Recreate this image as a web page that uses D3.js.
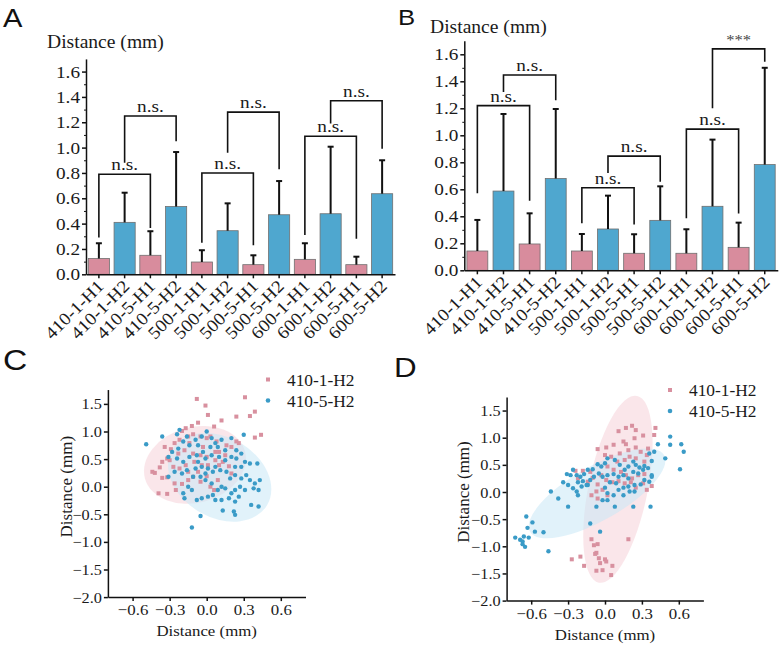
<!DOCTYPE html>
<html>
<head>
<meta charset="utf-8">
<script src="https://cdn.jsdelivr.net/npm/d3@7"></script>
<style>
    body { margin: 0; background: #fff; }
    svg text { font-family: "Liberation Serif", "Times New Roman", serif; fill: #1a1a1a; }
</style>
</head>
<body>
<svg id="fig" width="784" height="645"></svg>
<script>
// ---- data ----
var categories = ["410-1-H1", "410-1-H2", "410-5-H1", "410-5-H2", "500-1-H1", "500-1-H2",
    "500-5-H1", "500-5-H2", "600-1-H1", "600-1-H2", "600-5-H1", "600-5-H2"];
var yTicksBar = [0, 0.2, 0.4, 0.6, 0.8, 1.0, 1.2, 1.4, 1.6];
var yMinorBar = [0.1, 0.3, 0.5, 0.7, 0.9, 1.1, 1.3, 1.5];

var meanA = [0.125, 0.41, 0.15, 0.535, 0.097, 0.344, 0.076, 0.47, 0.118, 0.478, 0.076, 0.636];
var sdA = [0.12, 0.234, 0.19, 0.43, 0.093, 0.216, 0.074, 0.266, 0.127, 0.529, 0.063, 0.264];
var meanB = [0.143, 0.587, 0.195, 0.68, 0.143, 0.306, 0.126, 0.37, 0.126, 0.474, 0.17, 0.783];
var sdB = [0.23, 0.571, 0.227, 0.515, 0.126, 0.247, 0.141, 0.252, 0.178, 0.494, 0.183, 0.717];

// [from bar, to bar, bracket height, left leg end, right leg end, label]
var bracketsA = [[0, 2, 0.79, 0.29, 0.365, "n.s."], [1, 3, 1.25, 0.88, 1.05, "n.s."],
    [4, 6, 0.80, 0.25, 0.23, "n.s."], [5, 7, 1.28, 0.96, 0.83, "n.s."],
    [8, 10, 1.09, 0.31, 0.28, "n.s."], [9, 11, 1.37, 1.19, 0.99, "n.s."]];
var bracketsB = [[0, 2, 1.22, 0.57, 0.515, "n.s."], [1, 3, 1.447, 1.32, 1.26, "n.s."],
    [4, 6, 0.612, 0.348, 0.34, "n.s."], [5, 7, 0.846, 0.72, 0.656, "n.s."],
    [8, 10, 1.046, 0.385, 0.42, "n.s."], [9, 11, 1.64, 1.2, 1.545, "***"]];

var yTicksSc = [-2.0, -1.5, -1.0, -0.5, 0.0, 0.5, 1.0, 1.5];
var xTicksSc = [-0.6, -0.3, 0.0, 0.3, 0.6];
var seriesNames = ["410-1-H2", "410-5-H2"];

var pinkC = [[-0.08,1.59],[0.31,1.62],[-0.01,1.47],[0.24,1.27],[0.35,1.28],[0.39,1.36],[0.01,1.30],[-0.07,1.16],
    [0.12,1.20],[0.06,1.09],[-0.12,1.10],[-0.17,1.06],[-0.20,1.01],[0.44,0.94],[0.39,0.89],[0.26,0.79],[0.24,0.82],
    [0.20,0.72],[0.16,0.75],[0.08,0.82],[0.03,0.91],[0.0,0.88],[-0.05,0.91],[-0.11,0.95],[-0.15,0.91],[-0.22,0.85],
    [-0.26,0.79],[-0.29,0.68],[-0.34,0.72],[-0.32,0.51],[-0.30,0.48],[-0.36,0.45],[-0.38,0.35],[-0.44,0.27],
    [-0.42,0.25],[-0.36,0.16],[-0.32,0.17],[-0.26,0.06],[-0.25,-0.06],[-0.32,-0.13],[-0.39,-0.12],[-0.20,0.05],
    [-0.15,0.12],[-0.11,0.18],[-0.05,0.09],[0.03,0.0],[0.06,-0.06],[0.09,0.12],[0.0,0.19],[-0.07,0.27],[-0.15,0.27],
    [-0.17,0.39],[-0.10,0.45],[-0.04,0.39],[0.01,0.39],[0.07,0.48],[0.13,0.45],[0.18,0.37],[0.20,0.24],[-0.05,0.57],
    [-0.11,0.60],[-0.18,0.66],[-0.23,0.60],[0.10,0.63],[0.15,0.57],[0.07,0.63],[-0.03,0.72],[-0.14,0.79],
    [-0.27,0.36],[-0.22,0.33],[0.10,0.39],[0.0,0.54]];
var blueC = [[-0.49,0.77],[-0.36,0.91],[-0.24,0.95],[-0.22,1.03],[-0.16,0.91],[-0.09,0.85],[-0.04,0.91],[0.0,1.0],
    [0.04,0.88],[-0.07,0.75],[-0.14,0.75],[-0.19,0.82],[-0.23,0.69],[-0.28,0.63],[-0.31,0.54],[-0.24,0.51],
    [-0.19,0.45],[-0.14,0.54],[-0.08,0.57],[-0.03,0.63],[0.03,0.72],[0.07,0.79],[0.12,0.85],[0.20,0.88],[0.30,0.94],
    [0.31,0.45],[0.24,0.51],[0.20,0.54],[0.15,0.48],[0.10,0.54],[0.07,0.36],[0.01,0.33],[-0.04,0.36],[-0.09,0.33],
    [-0.16,0.30],[-0.20,0.24],[-0.26,0.27],[-0.31,0.18],[-0.11,0.18],[-0.05,0.18],[-0.01,0.24],[0.05,0.27],
    [0.11,0.30],[0.16,0.27],[0.19,0.15],[0.23,0.21],[0.28,0.15],[0.32,0.21],[0.35,0.12],[0.39,0.06],[0.43,0.12],
    [0.42,-0.06],[0.38,-0.03],[0.31,-0.06],[0.27,0.0],[0.23,-0.06],[0.20,-0.12],[0.15,-0.03],[0.12,0.0],[0.09,-0.06],
    [0.05,-0.15],[0.01,-0.18],[-0.04,-0.21],[-0.08,-0.24],[-0.12,-0.06],[-0.15,0.0],[-0.19,-0.12],[-0.18,-0.21],
    [0.07,-0.24],[0.12,-0.24],[0.18,-0.21],[0.23,-0.27],[0.26,-0.18],[0.36,-0.33],[0.42,-0.36],[0.13,-0.43],
    [0.23,-0.51],[0.22,-0.45],[-0.05,-0.53],[-0.12,-0.74],[0.41,0.42],[0.35,0.42],[0.28,0.60],[0.24,0.66],
    [0.15,0.66],[0.09,0.72],[-0.01,0.51],[-0.07,0.45],[0.04,0.57],[-0.01,0.12],[0.04,0.06],[0.28,0.36],[0.23,0.36]];

var pinkD = [[0.11,1.12],[0.17,1.18],[0.22,1.22],[0.25,1.14],[0.31,1.04],[0.41,1.18],[0.24,0.99],[0.15,0.93],
    [0.17,0.88],[0.07,0.87],[0.01,0.82],[-0.06,0.79],[0.0,0.68],[0.05,0.65],[0.12,0.71],[0.19,0.77],[0.25,0.82],
    [0.29,0.74],[0.34,0.68],[0.32,0.56],[0.25,0.62],[0.20,0.65],[0.16,0.59],[0.10,0.56],[0.02,0.47],[0.07,0.41],
    [0.13,0.37],[0.17,0.31],[0.22,0.25],[0.27,0.31],[0.32,0.33],[0.31,0.16],[0.25,0.08],[0.21,0.18],[0.16,0.16],
    [0.11,0.20],[0.06,0.18],[0.01,0.22],[-0.02,0.04],[-0.07,0.01],[-0.06,0.14],[-0.10,0.26],[-0.12,0.37],
    [-0.18,0.39],[-0.22,0.25],[-0.14,0.19],[-0.03,0.31],[0.02,-0.06],[-0.06,-0.12],[-0.11,-0.06],[0.34,0.04],
    [0.40,1.05],[0.35,0.80],[0.38,0.11],[-0.24,0.39],
    [-0.27,-1.24],[-0.20,-1.19],[-0.17,-1.36],[-0.11,-0.87],[-0.09,-0.98],[-0.06,-0.96],[-0.07,-1.12],[-0.08,-1.14],
    [-0.05,-1.22],[0.0,-1.24],[0.01,-1.28],[-0.04,-1.31],[-0.07,-1.45],[-0.02,-1.44],[0.05,-1.53],[0.06,-1.36],
    [0.19,-0.87]];
var blueD = [[0.53,1.02],[0.62,0.88],[0.64,0.74],[0.53,0.87],[0.43,0.88],[0.49,0.62],[0.61,0.42],[0.40,0.74],
    [0.36,0.71],[0.38,0.57],[0.32,0.48],[0.28,0.45],[0.25,0.50],[0.23,0.56],[0.19,0.47],[0.16,0.41],[0.12,0.50],
    [0.08,0.59],[0.02,0.62],[0.0,0.53],[-0.03,0.47],[-0.06,0.51],[-0.10,0.42],[-0.14,0.41],[-0.17,0.33],[-0.20,0.28],
    [-0.23,0.31],[-0.26,0.41],[-0.28,0.31],[-0.31,0.33],[-0.34,0.18],[-0.30,0.13],[-0.26,0.07],[-0.22,0.18],
    [-0.18,0.20],[-0.14,0.13],[-0.12,0.22],[-0.09,0.28],[-0.05,0.34],[-0.02,0.28],[0.02,0.31],[0.07,0.33],[0.11,0.28],
    [0.15,0.31],[0.19,0.25],[0.23,0.37],[0.27,0.34],[0.31,0.41],[0.35,0.44],[0.38,0.31],[0.32,0.22],[0.29,0.14],
    [0.24,0.13],[0.19,0.10],[0.15,0.08],[0.09,0.16],[0.04,0.18],[0.0,0.08],[0.02,-0.02],[0.07,-0.06],[0.11,0.04],
    [0.15,-0.06],[0.20,0.01],[0.24,0.01],[0.02,-0.15],[-0.02,-0.15],[0.08,-0.27],[-0.07,-0.27],[-0.22,-0.06],
    [-0.30,-0.27],[-0.38,-0.12],[-0.44,0.01],[-0.12,-0.58],[-0.04,-0.73],[-0.15,0.13],[-0.19,0.10],[-0.23,0.01],
    [0.37,-0.27],[0.23,-0.27],[0.38,0.28],[0.36,0.19],
    [-0.64,-0.45],[-0.59,-0.56],[-0.63,-0.66],[-0.57,-0.73],[-0.50,-0.74],[-0.66,-0.82],[-0.73,-0.84],[-0.69,-0.88],
    [-0.67,-0.91],[-0.65,-1.01],[-0.67,-0.96],[-0.62,-0.84],[-0.46,-1.09]];

// ellipses: major axis end points in data units, minor/major ratio
var ellC = [{ p1: [-0.50, 0.15], p2: [0.31, 0.64], r: 0.73, s: 0 }, { p1: [-0.28, 0.67], p2: [0.49, -0.33], r: 0.73, s: 1 }];
var ellD = [{ p1: [0.26, 1.77], p2: [-0.05, -1.67], r: 0.31, s: 0 }, { p1: [-0.61, -0.73], p2: [0.48, 0.68], r: 0.35, s: 1 }];

// ---- styles ----
var barFill = ["#d88c9d", "#4fa7cf"];
var dotFill = ["#d8909f", "#3a9bc7"];
var ellFill = ["rgba(246,205,214,0.5)", "rgba(200,232,246,0.55)"];
var SX = 1.1;   // text in the figure is a bit wide

var svg = d3.select("#fig");

function txt(g, x, y, s, size, anchor) {
    return g.append("text")
        .attr("transform", "translate(" + x + "," + y + ") scale(" + SX + ",1)")
        .attr("text-anchor", anchor || "start")
        .style("font-size", size + "px")
        .text(s);
}

function letter(s, x, y, size) {
    svg.append("text")
        .attr("transform", "translate(" + x + "," + y + ") scale(1.12,1)")
        .style("font-family", "'Liberation Sans', Arial, sans-serif")
        .style("font-size", size + "px")
        .style("fill", "#111")
        .text(s);
}

function styleAxis(g) {
    g.attr("font-family", null).attr("font-size", null);
    g.selectAll("path, line").attr("stroke", "#111").attr("stroke-width", 1.5);
}

// 柱状图
function barPanel(o) {
    var g = svg.append("g");
    var x = d3.scaleBand().domain(categories).range([o.x0, o.x1])
        .paddingInner(o.pad).paddingOuter(o.pad / 2);
    var y = d3.scaleLinear().domain([0, 1.7]).range([o.zero, o.zero - 1.7 * o.unit]);

    g.selectAll("rect.bar").data(o.mean).enter().append("rect")
        .attr("x", (d, i) => x(categories[i]))
        .attr("y", d => y(d))
        .attr("width", x.bandwidth())
        .attr("height", d => y(0) - y(d))
        .attr("fill", (d, i) => barFill[i % 2])
        .attr("stroke", "#6f6f6f")
        .attr("stroke-width", 0.8);

    // upper error bars
    o.mean.forEach(function (m, i) {
        var cx = x(categories[i]) + x.bandwidth() / 2;
        g.append("line").attr("x1", cx).attr("x2", cx)
            .attr("y1", y(m)).attr("y2", y(m + o.sd[i]))
            .attr("stroke", "#111").attr("stroke-width", 2);
        g.append("line").attr("x1", cx - 3).attr("x2", cx + 3)
            .attr("y1", y(m + o.sd[i])).attr("y2", y(m + o.sd[i]))
            .attr("stroke", "#111").attr("stroke-width", 2);
    });

    // significance brackets
    o.brackets.forEach(function (b) {
        var xa = x(categories[b[0]]) + x.bandwidth() / 2;
        var xb = x(categories[b[1]]) + x.bandwidth() / 2;
        g.append("path")
            .attr("d", "M" + xa + "," + y(b[3]) + "V" + y(b[2]) + "H" + xb + "V" + y(b[4]))
            .attr("fill", "none").attr("stroke", "#111").attr("stroke-width", 1.6);
        var t = txt(g, (xa + xb) / 2, y(b[2]) - 4, b[5], b[5] == "***" ? 15 : 17.5, "middle");
        if (b[5] == "***") t.style("fill", "#444");
    });

    var gy = g.append("g").attr("transform", "translate(" + o.x0 + ",0)")
        .call(d3.axisLeft(y).tickValues(yTicksBar).tickFormat(d3.format(".1f")).tickSize(4).tickSizeOuter(0));
    styleAxis(gy);
    gy.selectAll("text").attr("x", 0).attr("dy", 0)
        .attr("transform", "translate(-6,5.5) scale(" + SX + ",1)")
        .style("font-size", "17.5px");
    var gm = g.append("g").attr("transform", "translate(" + o.x0 + ",0)")
        .call(d3.axisLeft(y).tickValues(yMinorBar).tickFormat("").tickSize(2));
    gm.select(".domain").remove();
    gm.selectAll("line").attr("stroke", "#111").attr("stroke-width", 1);

    var gx = g.append("g").attr("transform", "translate(0," + o.zero + ")")
        .call(d3.axisBottom(x).tickSize(4).tickSizeOuter(0));
    styleAxis(gx);
    gx.selectAll("text").attr("y", 0).attr("dy", 0)
        .attr("text-anchor", "end")
        .attr("transform", "translate(6,13) rotate(-45) scale(" + SX + ",1)")
        .style("font-size", "17.5px");

    txt(g, o.titleX, o.titleY, "Distance (mm)", 17.8, "start");
}

// 散点图
function scatterPanel(o) {
    var g = svg.append("g");
    var x = d3.scaleLinear().domain([-0.8, 0.8]).range([o.x0, o.x1]);
    var y = d3.scaleLinear().domain([-2.0, o.yMax]).range([o.zero + 2 * o.unit, o.zero - o.yMax * o.unit]);

    o.ell.forEach(function (e) {
        var ax = x(e.p1[0]), ay = y(e.p1[1]), bx = x(e.p2[0]), by = y(e.p2[1]);
        var a = Math.hypot(bx - ax, by - ay) / 2;
        var ang = Math.atan2(by - ay, bx - ax) * 180 / Math.PI;
        g.append("ellipse")
            .attr("transform", "translate(" + (ax + bx) / 2 + "," + (ay + by) / 2 + ") rotate(" + ang + ")")
            .attr("rx", a).attr("ry", a * e.r)
            .attr("fill", ellFill[e.s]);
    });

    g.selectAll("rect.pt").data(o.pink).enter().append("rect")
        .attr("x", d => x(d[0]) - 2).attr("y", d => y(d[1]) - 2)
        .attr("width", 4).attr("height", 4)
        .attr("fill", dotFill[0]);
    g.selectAll("circle.pt").data(o.blue).enter().append("circle")
        .attr("cx", d => x(d[0])).attr("cy", d => y(d[1]))
        .attr("r", 2.2)
        .attr("fill", dotFill[1]);

    var gy = g.append("g").attr("transform", "translate(" + o.x0 + ",0)")
        .call(d3.axisLeft(y).tickValues(yTicksSc).tickFormat(d3.format(".1f")).tickSize(4).tickSizeOuter(0));
    styleAxis(gy);
    gy.selectAll("text").attr("x", 0).attr("dy", 0)
        .attr("transform", "translate(-6,5) scale(" + SX + ",1)")
        .style("font-size", "14.8px");

    var gx = g.append("g").attr("transform", "translate(0," + y(-2) + ")")
        .call(d3.axisBottom(x).tickValues(xTicksSc).tickFormat(d3.format(".1f")).tickSize(4).tickSizeOuter(0));
    styleAxis(gx);
    gx.selectAll("text").attr("y", 0).attr("dy", 0)
        .attr("transform", "translate(0,18) scale(" + SX + ",1)")
        .style("font-size", "15.3px");

    txt(g, (o.x0 + o.x1) / 2, o.zero + 2 * o.unit + 39, "Distance (mm)", 15.3, "middle");
    g.append("text")
        .attr("transform", "translate(" + o.ylabX + "," + (o.zero) + ") rotate(-90)")
        .attr("text-anchor", "middle")
        .style("font-size", "17px")
        .text("Distance (mm)");

    // legend
    g.append("rect").attr("x", o.legX - 2).attr("y", o.legY - 2).attr("width", 4).attr("height", 4).attr("fill", dotFill[0]);
    g.append("circle").attr("cx", o.legX).attr("cy", o.legY + 21).attr("r", 2.3).attr("fill", dotFill[1]);
    txt(g, o.legX + 19, o.legY + 6, seriesNames[0], 15.8, "start");
    txt(g, o.legX + 19, o.legY + 27, seriesNames[1], 15.8, "start");
}

barPanel({ x0: 86, x1: 395, pad: 0.18, zero: 274.3, unit: 126.7, mean: meanA, sd: sdA,
    brackets: bracketsA, titleX: 47, titleY: 48 });
barPanel({ x0: 464.3, x1: 777.8, pad: 0.2, zero: 270.3, unit: 135, mean: meanB, sd: sdB,
    brackets: bracketsB, titleX: 430, titleY: 33 });

scatterPanel({ x0: 107.9, x1: 305.5, zero: 486.7, unit: 55.2, yMax: 1.76, pink: pinkC, blue: blueC,
    ell: ellC, ylabX: 72, legX: 268, legY: 379.5 });
scatterPanel({ x0: 506.6, x1: 703.4, zero: 492, unit: 54.3, yMax: 1.75, pink: pinkD, blue: blueD,
    ell: ellD, ylabX: 469, legX: 670, legY: 390 });

letter("A", 3, 27, 26);
letter("B", 398, 25, 23);
letter("C", 3, 370, 30);
letter("D", 394, 377, 28);
</script>
</body>
</html>
